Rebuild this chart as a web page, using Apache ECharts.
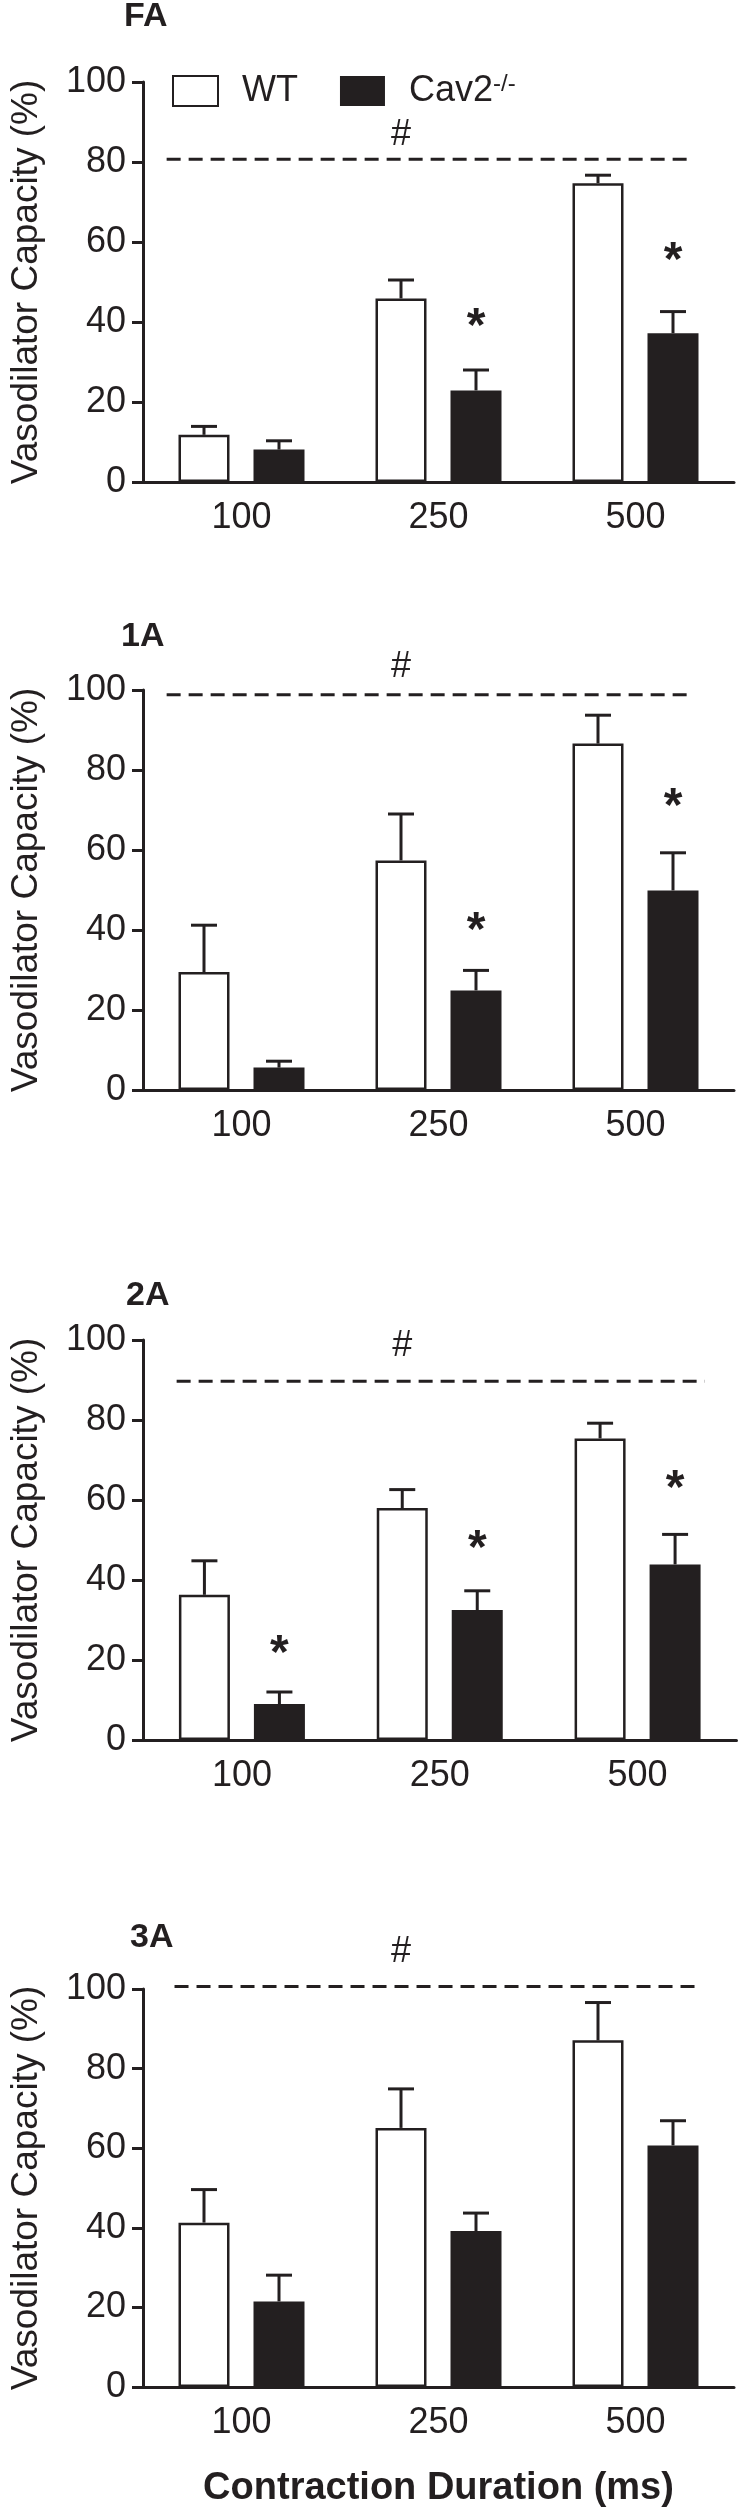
<!DOCTYPE html>
<html><head><meta charset="utf-8">
<script src="https://cdn.jsdelivr.net/npm/echarts@6/dist/echarts.min.js"></script>
<style>html,body{margin:0;padding:0;background:#fff}#c{width:738px;height:2509px}</style>
</head><body><div id="c"></div><script>
// ---------- data ----------
const categories = ['100', '250', '500'];
const panelLabels = ['FA', '1A', '2A', '3A'];
const wtMean  = [[11.8, 45.9, 74.7], [29.5, 57.4, 86.6], [36.3, 58.0, 75.4], [41.3, 65.1, 87.1]];
const wtSem   = [[2.1, 4.6, 2.0], [11.7, 11.6, 7.1], [8.5, 4.6, 3.8], [8.3, 9.8, 9.5]];
const cavMean = [[8.1, 22.9, 37.2], [5.6, 24.9, 49.9], [9.0, 32.5, 43.9], [21.5, 39.2, 60.7]];
const cavSem  = [[2.2, 5.1, 5.4], [1.6, 5.0, 9.4], [3.0, 4.8, 7.5], [6.6, 4.5, 6.2]];
const refLine = [80.7, 98.8, 89.7, 100.6];
const hashY   = [86.8, 105.7, 98.5, 109.2];
const starY   = [[null, 41.3, 57.9], [null, 42.4, 73.3], [24.1, 50.3, 65.2], [null, null, null]];
const yMin = 0, yMax = 100, yStep = 20;
const seriesNames = ['WT', 'Cav2-/-'];
const yTitle = 'Vasodilator Capacity (%)';
const xTitle = 'Contraction Duration (ms)';

// ---------- layout / style ----------
const INK = '#231f20';
const FONT = '"Liberation Sans", Arial, Helvetica, sans-serif';
const layout = [
  { top: 82,   left: 132,   titleLeft: 124, titleTop: 0,    dash: [-0.38, 0.29] },
  { top: 690,  left: 132,   titleLeft: 121, titleTop: 620,  dash: [-0.38, 0.28] },
  { top: 1340, left: 134.5, titleLeft: 126, titleTop: 1279, dash: [-0.33, 0.34] },
  { top: 1989, left: 132,   titleLeft: 130, titleTop: 1921, dash: [-0.34, 0.31] }
];
const plotH = 400, plotW = 602;
const BAR_W = 51, BAR_GAP = 24;
const OFF = (BAR_W + BAR_GAP) / 2;

function errRender(offset) {
  return function (params, api) {
    const i = api.value(0);
    const b = api.coord([i, api.value(1)]);
    const t = api.coord([i, api.value(2)]);
    const x = b[0] + offset;
    return { type: 'group', children: [
      { type: 'line', shape: { x1: x, y1: b[1], x2: x, y2: t[1] }, style: { stroke: INK, lineWidth: 3 } },
      { type: 'line', shape: { x1: x - 13, y1: t[1], x2: x + 13, y2: t[1] }, style: { stroke: INK, lineWidth: 3 } }
    ] };
  };
}

const grids = [], xAxes = [], yAxes = [], titles = [], series = [];
layout.forEach((L, p) => {
  grids.push({ left: L.left, top: L.top, width: plotW, height: plotH });
  titles.push({ text: panelLabels[p], left: L.titleLeft, top: L.titleTop, padding: 0,
    textStyle: { fontFamily: FONT, fontSize: 34, fontWeight: 'bold', color: INK } });
  xAxes.push({
    type: 'category', gridIndex: p, data: categories, boundaryGap: true,
    axisLine: { lineStyle: { color: INK, width: 3 } },
    axisTick: { alignWithLabel: true, length: 12, lineStyle: { color: INK, width: 3 } },
    axisLabel: { fontFamily: FONT, fontSize: 36, color: INK, margin: 18 },
    splitLine: { show: false },
    name: p === 3 ? xTitle : '', nameLocation: 'middle', nameGap: 83,
    nameTextStyle: { fontFamily: FONT, fontSize: 38, fontWeight: 'bold', color: INK }
  });
  yAxes.push({
    type: 'value', gridIndex: p, min: yMin, max: yMax, interval: yStep,
    axisLine: { show: true, lineStyle: { color: INK, width: 3 } },
    axisTick: { show: true, length: 11, lineStyle: { color: INK, width: 3 } },
    axisLabel: { fontFamily: FONT, fontSize: 36, color: INK, margin: 17 },
    splitLine: { show: false },
    name: yTitle, nameLocation: 'middle', nameGap: 98,
    nameTextStyle: { fontFamily: FONT, fontSize: 37, color: INK }
  });
  series.push({
    name: seriesNames[0], type: 'bar', xAxisIndex: p, yAxisIndex: p, data: wtMean[p],
    barWidth: BAR_W, barGap: (BAR_GAP / BAR_W * 100) + '%',
    itemStyle: { color: '#ffffff', borderColor: INK, borderWidth: 2.5 }, emphasis: { disabled: true }
  });
  series.push({
    name: seriesNames[1], type: 'bar', xAxisIndex: p, yAxisIndex: p, data: cavMean[p],
    barWidth: BAR_W, barGap: (BAR_GAP / BAR_W * 100) + '%',
    itemStyle: { color: INK, borderColor: INK, borderWidth: 0 }, emphasis: { disabled: true }
  });
  series.push({
    type: 'custom', xAxisIndex: p, yAxisIndex: p, z: 3, silent: true,
    data: categories.map((c, i) => [i, wtMean[p][i], wtMean[p][i] + wtSem[p][i]]),
    encode: { x: 0, y: [1, 2] }, renderItem: errRender(-OFF)
  });
  series.push({
    type: 'custom', xAxisIndex: p, yAxisIndex: p, z: 3, silent: true,
    data: categories.map((c, i) => [i, cavMean[p][i], cavMean[p][i] + cavSem[p][i]]),
    encode: { x: 0, y: [1, 2] }, renderItem: errRender(OFF)
  });
  series.push({
    type: 'custom', xAxisIndex: p, yAxisIndex: p, z: 4, silent: true,
    data: [[1, refLine[p], hashY[p]]], encode: { x: 0, y: 1 },
    renderItem: function (params, api) {
      const y = api.coord([0, api.value(1)])[1];
      const band = api.size([1, 0])[0];
      const x0 = api.coord([0, 0])[0] + L.dash[0] * band;
      const x1 = api.coord([2, 0])[0] + L.dash[1] * band;
      const h = api.coord([1, api.value(2)]);
      return { type: 'group', children: [
        { type: 'line', shape: { x1: x0, y1: y, x2: x1, y2: y }, style: { stroke: INK, lineWidth: 3, lineDash: [14, 8] } },
        { type: 'text', x: h[0] - OFF, y: h[1], style: { text: '#', fill: INK, font: '36px ' + FONT, align: 'center', verticalAlign: 'middle' } }
      ] };
    }
  });
  const stars = [];
  starY[p].forEach((v, i) => { if (v != null) stars.push([i, v]); });
  if (stars.length) series.push({
    type: 'custom', xAxisIndex: p, yAxisIndex: p, z: 4, silent: true,
    data: stars, encode: { x: 0, y: 1 },
    renderItem: function (params, api) {
      const c = api.coord([api.value(0), api.value(1)]);
      return { type: 'text', x: c[0] + OFF, y: c[1] + 11, style: { text: '*', fill: INK, font: 'bold 48px ' + FONT, align: 'center', verticalAlign: 'middle' } };
    }
  });
});

const chart = echarts.init(document.getElementById('c'), null, { renderer: 'canvas' });
chart.setOption({
  animation: false,
  backgroundColor: '#ffffff',
  title: titles,
  legend: {
    data: seriesNames, left: 172, top: 72, padding: 0, itemWidth: 45, itemHeight: 30, itemGap: 42,
    icon: 'rect', selectedMode: false,
    formatter: n => n === 'WT' ? 'WT' : 'Cav2{sup|-/-}',
    textStyle: { fontFamily: FONT, fontSize: 36, color: INK, padding: [0, 0, 0, 19],
      rich: { sup: { fontFamily: FONT, fontSize: 24, color: INK, verticalAlign: 'top', padding: [0, 0, 14, 0] } } }
  },
  grid: grids, xAxis: xAxes, yAxis: yAxes, series: series
});
</script></body></html>
